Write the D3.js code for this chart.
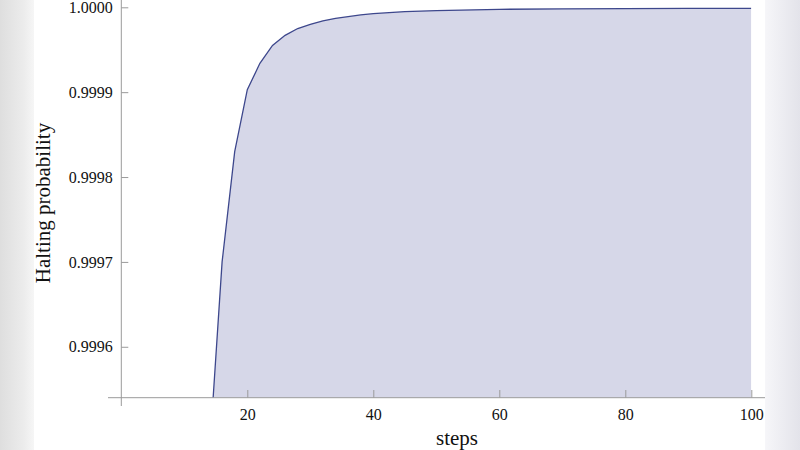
<!DOCTYPE html>
<html>
<head>
<meta charset="utf-8">
<script src="https://cdn.jsdelivr.net/npm/d3@7"></script>
<style>
  body { margin: 0; background: #fff; }
  svg { display: block; }
  svg text { font-family: 'Liberation Serif', 'DejaVu Serif', serif; }
</style>
</head>
<body>
<script>
// halting probability
var steps = [14, 16, 18, 20, 22, 24, 26, 28, 30, 32, 34, 36, 38, 40, 45, 50, 60, 70, 80, 90, 100];
var probs = [0.999475, 0.99970, 0.99983, 0.999903, 0.999934, 0.999955, 0.999967, 0.999975,
             0.99998, 0.999984, 0.999987, 0.999989, 0.999991, 0.9999925, 0.999995,
             0.9999962, 0.9999976, 0.9999982, 0.9999985, 0.9999987, 0.9999988];

var xMajor = [20, 40, 60, 80, 100];
var xMinor = [5, 10, 15, 25, 30, 35, 45, 50, 55, 65, 70, 75, 85, 90, 95];
var yMajor = [0.9996, 0.9997, 0.9998, 0.9999, 1.0];
var yMinor = [0.99956, 0.99958, 0.99962, 0.99964, 0.99966, 0.99968, 0.99972, 0.99974, 0.99976, 0.99978,
              0.99982, 0.99984, 0.99986, 0.99988, 0.99992, 0.99994, 0.99996, 0.99998];

var width = 800, height = 450;
var yMin = 0.99954;
var serif = "'Liberation Serif', 'DejaVu Serif', serif";

var data = steps.map(function(s, i) { return { s: s, p: probs[i] }; });

var svg = d3.select("body").append("svg")
    .attr("width", width)
    .attr("height", height);

var defs = svg.append("defs");

// blurred screen edges
var gl = defs.append("linearGradient").attr("id", "edgeL");
gl.append("stop").attr("offset", "0%").attr("stop-color", "#dedede");
gl.append("stop").attr("offset", "70%").attr("stop-color", "#ececec");
gl.append("stop").attr("offset", "100%").attr("stop-color", "#f6f6f6");
var gr = defs.append("linearGradient").attr("id", "edgeR");
gr.append("stop").attr("offset", "0%").attr("stop-color", "#f6f6f9");
gr.append("stop").attr("offset", "100%").attr("stop-color", "#e3e3ea");

svg.append("rect").attr("x", 0).attr("y", 0).attr("width", 34).attr("height", height).attr("fill", "url(#edgeL)");
svg.append("rect").attr("x", 765).attr("y", 0).attr("width", 35).attr("height", height).attr("fill", "url(#edgeR)");

var x = d3.scaleLinear().domain([0, 100]).range([121.3, 751.3]);
var y = d3.scaleLinear().domain([yMin, 1.0]).range([397.7, 7.3]);

defs.append("clipPath").attr("id", "plotClip")
  .append("rect")
    .attr("x", x(0)).attr("y", 0)
    .attr("width", x(100) - x(0)).attr("height", y(yMin));

var plot = svg.append("g").attr("clip-path", "url(#plotClip)");

var area = d3.area()
    .x(function(d) { return x(d.s); })
    .y0(y(yMin))
    .y1(function(d) { return y(d.p); });

var line = d3.line()
    .x(function(d) { return x(d.s); })
    .y(function(d) { return y(d.p); });

plot.append("path")
    .datum(data)
    .attr("d", area)
    .attr("fill", "#d6d7e8");

plot.append("path")
    .datum(data)
    .attr("d", line)
    .attr("fill", "none")
    .attr("stroke", "#3d478c")
    .attr("stroke-width", 1.3);

var axisColor = "#9a9a9a";

// x axis
var gx = svg.append("g").attr("transform", "translate(0," + y(yMin) + ")");
gx.call(d3.axisBottom(x).tickValues(xMinor).tickSizeInner(-4.3).tickSizeOuter(0).tickFormat(""));
gx.call(d3.axisBottom(x).tickValues(xMajor).tickSizeInner(-7.7).tickSizeOuter(0).tickPadding(11).tickFormat(d3.format("d")));
gx.attr("font-family", serif).attr("font-size", 16);
gx.selectAll(".domain").remove();
gx.selectAll("line").attr("stroke", axisColor);
gx.selectAll("text").attr("fill", "#111");
gx.append("line")
    .attr("x1", 108).attr("x2", 765)
    .attr("stroke", axisColor);

// y axis
var gy = svg.append("g").attr("transform", "translate(" + x(0) + ",0)");
gy.call(d3.axisLeft(y).tickValues(yMinor).tickSizeInner(-4).tickSizeOuter(0).tickFormat(""));
gy.call(d3.axisLeft(y).tickValues(yMajor).tickSizeInner(-7).tickSizeOuter(0).tickPadding(8.5).tickFormat(d3.format(".4f")));
gy.attr("font-family", serif).attr("font-size", 16);
gy.selectAll(".domain").remove();
gy.selectAll("line").attr("stroke", axisColor);
gy.selectAll("text").attr("fill", "#111");
gy.append("line")
    .attr("y1", 0).attr("y2", 406)
    .attr("stroke", axisColor);

// titles
svg.append("text")
    .attr("x", 457).attr("y", 445)
    .attr("text-anchor", "middle")
    .attr("font-size", 21)
    .attr("fill", "#111")
    .text("steps");

svg.append("text")
    .attr("transform", "translate(50,203) rotate(-90)")
    .attr("text-anchor", "middle")
    .attr("font-size", 21)
    .attr("fill", "#111")
    .text("Halting probability");
</script>
</body>
</html>
